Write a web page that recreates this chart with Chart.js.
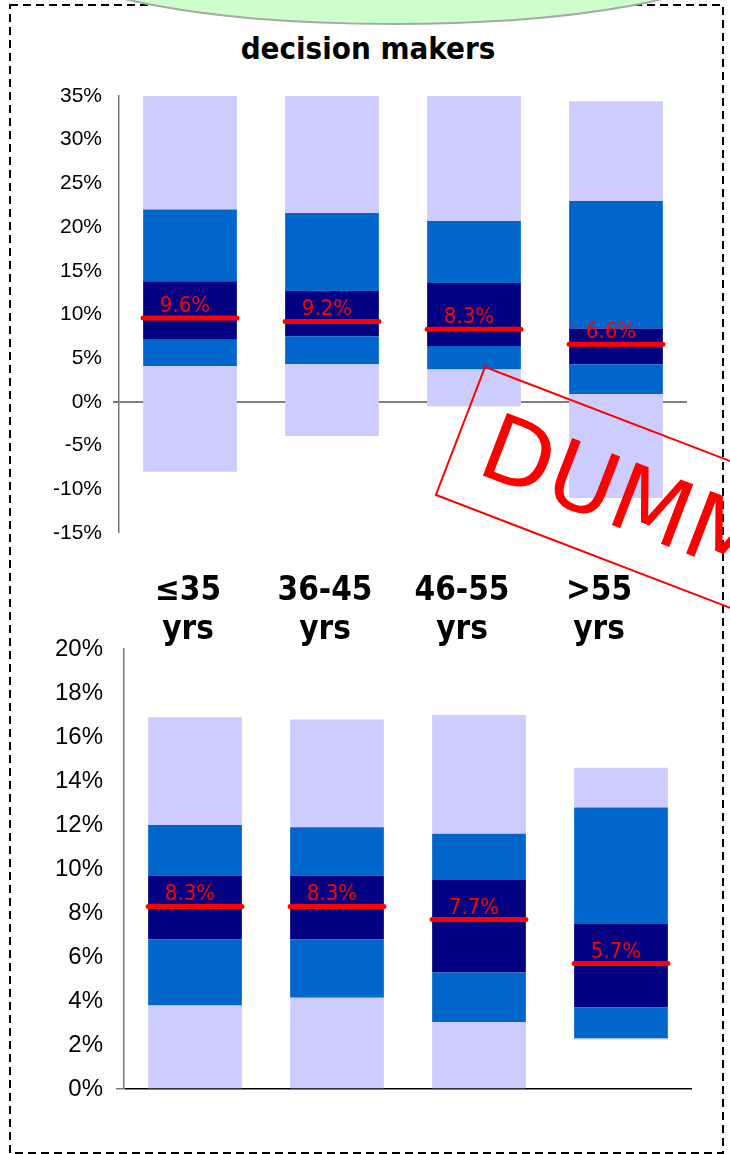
<!DOCTYPE html>
<html>
<head>
<meta charset="utf-8">
<script src="https://cdn.jsdelivr.net/npm/chart.js@4"></script>
<style>
  body { margin: 0; background: #fff; }
  #page { position: relative; width: 730px; height: 1154px; overflow: hidden; }
  canvas { position: absolute; left: 0; }
  .title { position: absolute; left: 0; width: 736px; top: 30px; text-align: center;
           font: bold 31px "DejaVu Sans Condensed", "DejaVu Sans", sans-serif; }
  .cat { position: absolute; top: 569px; width: 140px; text-align: center; line-height: 36px;
         font: bold 33px "DejaVu Sans Condensed", "DejaVu Sans", sans-serif; }
  svg { position: absolute; left: 0; top: 0; }
</style>
</head>
<body>
<div id="page">
  <svg width="730" height="1154">
    <rect x="10" y="5" width="713" height="1148" fill="none" stroke="#000" stroke-width="2" stroke-dasharray="8 5"/>
    <ellipse cx="394" cy="-38" rx="335" ry="62" fill="#ccffcc" stroke="#a8a8a8" stroke-width="2"/>
  </svg>
  <div class="title">decision makers</div>
  <canvas id="topChart" width="730" height="560" style="top:0"></canvas>
  <canvas id="botChart" width="730" height="534" style="top:620px"></canvas>
  <div id="cats"></div>
  <svg width="730" height="1154" style="pointer-events:none">
    <g transform="translate(485,367) rotate(21)">
      <rect x="0" y="0" width="430" height="137" fill="none" stroke="#ff0000" stroke-width="2"/>
      <text x="28" y="102" font-family="DejaVu Sans" font-size="92" fill="#ff0000">DUMMY</text>
    </g>
  </svg>
</div>
<script>
// age groups
const categories = ['≤35 yrs', '36-45 yrs', '46-55 yrs', '>55 yrs'];

// top chart (decision makers), band edges in %
const topLow     = [-8.0, -3.9, -0.5, -11.0];
const topQ1      = [4.1, 4.3, 3.7, 0.9];
const topMidLow  = [7.1, 7.5, 6.4, 4.3];
const topMidHigh = [13.8, 12.7, 13.6, 8.4];
const topQ3      = [22.0, 21.6, 20.7, 23.0];
const topHigh    = [35.0, 35.0, 35.0, 34.4];
const topMedian  = [9.6, 9.2, 8.3, 6.6];
const topTicks   = [-15, -10, -5, 0, 5, 10, 15, 20, 25, 30, 35];

// bottom chart
const botLow     = [0, 0, 0, 2.25];
const botQ1      = [3.8, 4.15, 3.05, 2.3];
const botMidLow  = [6.8, 6.8, 5.3, 3.7];
const botMidHigh = [9.7, 9.7, 9.5, 7.5];
const botQ3      = [12.0, 11.9, 11.6, 12.8];
const botHigh    = [16.9, 16.8, 17.0, 14.6];
const botMedian  = [8.3, 8.3, 7.7, 5.7];
const botTicks   = [0, 2, 4, 6, 8, 10, 12, 14, 16, 18, 20];

const LIGHT = '#ccccff', BLUE = '#0066cc', NAVY = '#000080', RED = '#ff0000';

// category labels sit in a row between the two charts
var catBox = document.getElementById('cats');
categories.forEach(function(c, i) {
  var d = document.createElement('div');
  d.className = 'cat';
  d.style.left = (188 + i * 137 - 70) + 'px';
  d.innerHTML = c.split(' ').join('<br>');
  catBox.appendChild(d);
});

function bands(edges) {
  var colors = [LIGHT, BLUE, NAVY, BLUE, LIGHT];
  var sets = [];
  for (var k = 0; k < 5; k++) {
    sets.push({
      data: edges[k].map(function(v, i) { return [v, edges[k + 1][i]]; }),
      backgroundColor: colors[k],
      borderWidth: 0,
      grouped: false,
      barPercentage: 0.66,
      categoryPercentage: 1
    });
  }
  return sets;
}

// red median bar + value label
const medianPlugin = {
  id: 'medianLines',
  afterDatasetsDraw(chart, args, opts) {
    var ctx = chart.ctx;
    var meta = chart.getDatasetMeta(0);
    var y = chart.scales.y;
    opts.values.forEach(function(v, i) {
      var bar = meta.data[i];
      var half = bar.width / 2;
      var py = y.getPixelForValue(v);
      ctx.save();
      ctx.strokeStyle = RED;
      ctx.lineWidth = 5;
      ctx.lineCap = 'round';
      ctx.beginPath();
      ctx.moveTo(bar.x - half, py);
      ctx.lineTo(bar.x + half, py);
      ctx.stroke();
      ctx.fillStyle = RED;
      ctx.font = '22px "DejaVu Sans Condensed", "DejaVu Sans", sans-serif';
      ctx.textAlign = 'center';
      ctx.textBaseline = 'alphabetic';
      ctx.fillText(v.toFixed(1) + '%', bar.x - 5, py - 6);
      ctx.restore();
    });
  }
};

function makeChart(id, edges, medians, ticks, o) {
  return new Chart(document.getElementById(id), {
    type: 'bar',
    data: { labels: categories, datasets: bands(edges) },
    plugins: [medianPlugin],
    options: {
      responsive: false,
      animation: false,
      devicePixelRatio: 1,
      layout: { padding: o.padding },
      plugins: {
        legend: { display: false },
        tooltip: { enabled: false },
        medianLines: { values: medians }
      },
      scales: {
        x: { display: false },
        y: {
          min: ticks[0],
          max: ticks[ticks.length - 1],
          afterBuildTicks: function(s) { s.ticks = ticks.map(function(v) { return { value: v }; }); },
          afterFit: function(s) { s.width = o.axisX; },
          ticks: {
            color: '#000',
            padding: o.tickPad,
            font: { family: '"Liberation Sans", Arial, sans-serif', size: o.fontSize },
            callback: function(v) { return v + '%'; }
          },
          grid: {
            color: function(c) { return c.tick && c.tick.value === 0 ? o.zeroColor : 'rgba(0,0,0,0)'; },
            lineWidth: function(c) { return c.tick && c.tick.value === 0 ? o.zeroWidth : 0; },
            tickColor: '#777',
            tickLength: o.tickLen
          },
          border: { display: true, color: '#777', width: 1.5 }
        }
      }
    }
  });
}

makeChart('topChart', [topLow, topQ1, topMidLow, topMidHigh, topQ3, topHigh], topMedian, topTicks, {
  padding: { left: 0, right: 43, top: 96, bottom: 27 },
  axisX: 119, tickPad: 11, tickLen: 6, fontSize: 21, zeroColor: '#808080', zeroWidth: 2
});

makeChart('botChart', [botLow, botQ1, botMidLow, botMidHigh, botQ3, botHigh], botMedian, botTicks, {
  padding: { left: 0, right: 38, top: 29, bottom: 65 },
  axisX: 124, tickPad: 13, tickLen: 8, fontSize: 24, zeroColor: '#000', zeroWidth: 1.5
});
</script>
</body>
</html>
